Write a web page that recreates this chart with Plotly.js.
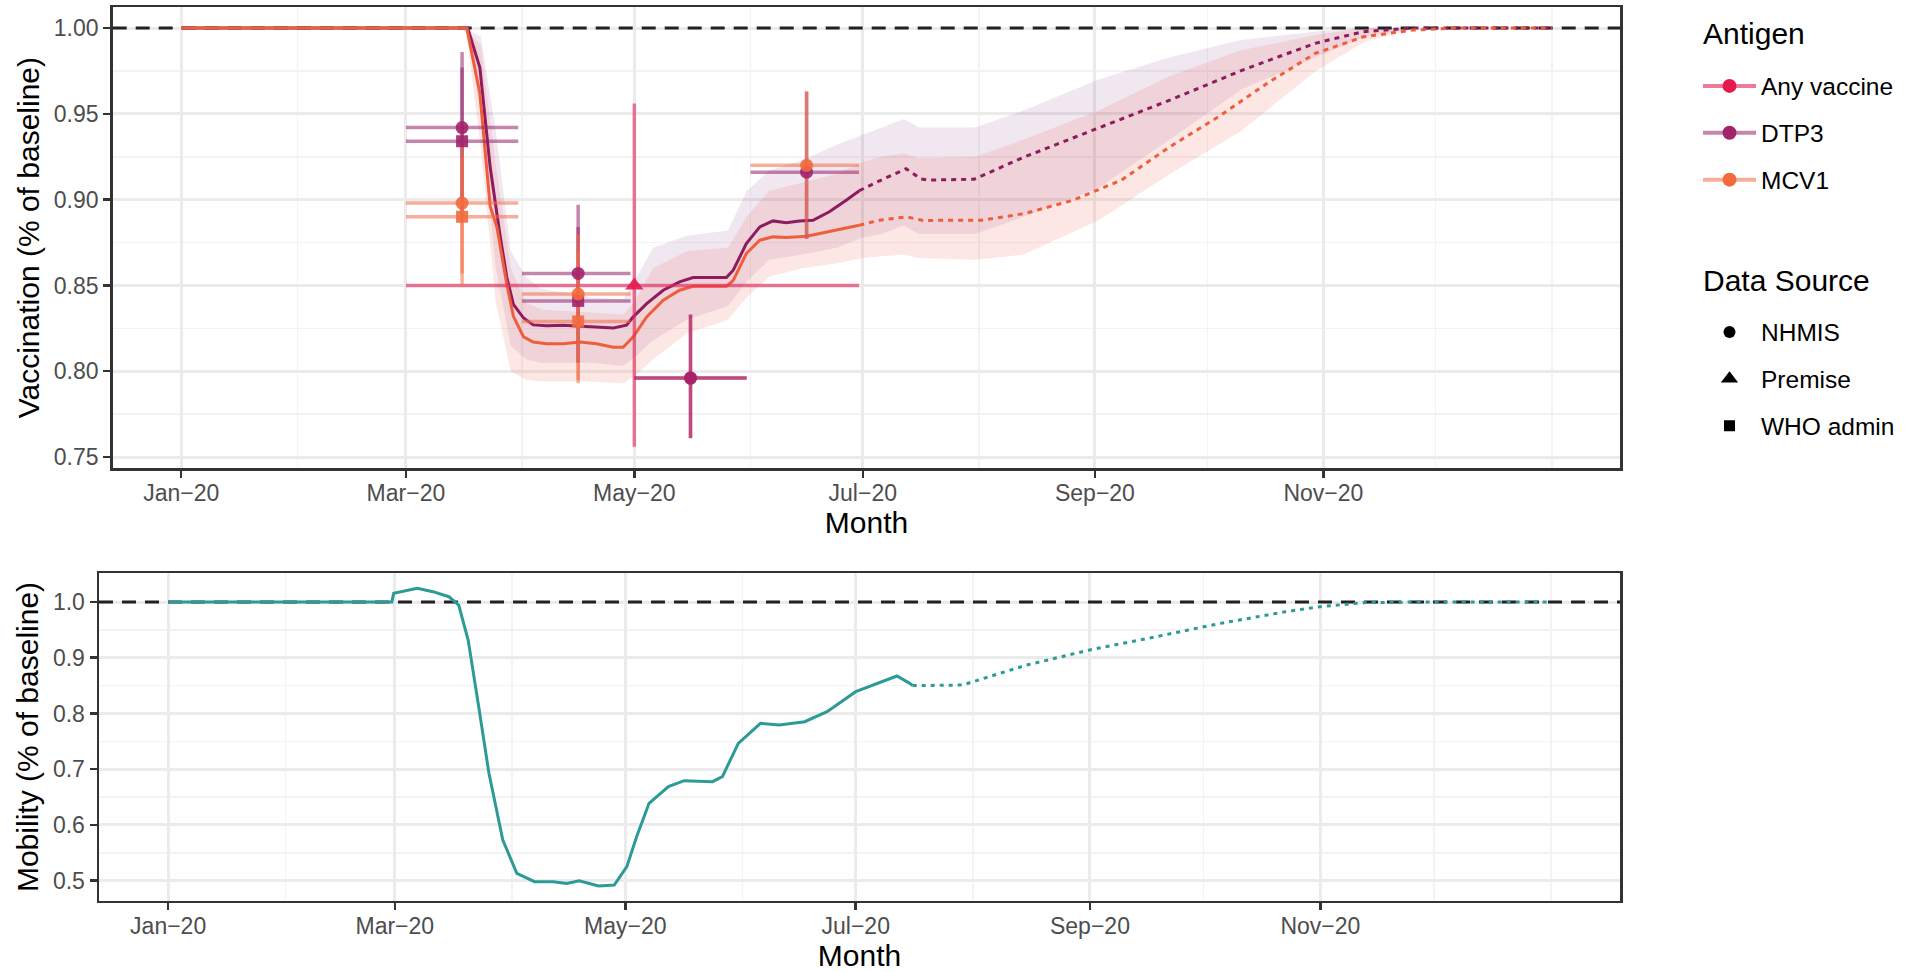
<!DOCTYPE html>
<html><head><meta charset="utf-8">
<script src="https://cdn.plot.ly/plotly-3.0.1.min.js"></script>
<style>html,body{margin:0;padding:0;background:#fff;} #chart{width:1917px;height:972px;}</style>
</head><body><div id="chart"></div>
<script>
// ---------------- DATA ----------------
const BASELINE = 1.0;
const X_RANGE = ['2019-12-13 16:48', '2021-01-19 07:12'];

const MONTH_TICKS  = ['2020-01-01','2020-03-01','2020-05-01','2020-07-01','2020-09-01','2020-11-01'];
const MONTH_LABELS = ['Jan\u221220','Mar\u221220','May\u221220','Jul\u221220','Sep\u221220','Nov\u221220'];
const MINOR_MONTHS = ['2020-02-01','2020-04-01','2020-06-01','2020-08-01','2020-10-01','2020-12-01','2021-01-01'];

const VAC_TICKS = [0.75, 0.80, 0.85, 0.90, 0.95, 1.00];
const VAC_MINOR = [0.775, 0.825, 0.875, 0.925, 0.975];
const MOB_TICKS = [0.5, 0.6, 0.7, 0.8, 0.9, 1.0];
const MOB_MINOR = [0.55, 0.65, 0.75, 0.85, 0.95];

// DTP3 fitted line (observed period)
const dtp3Dates = ['2020-01-01','2020-03-17 12:00','2020-03-20 18:00','2020-03-23 12:00','2020-03-26 02:00','2020-03-27 22:00','2020-03-29 17:00','2020-04-01 10:00','2020-04-04','2020-04-07 14:00','2020-04-12','2020-04-16 12:00','2020-04-20 22:00','2020-04-25 10:00','2020-04-28 22:00','2020-04-30 17:00','2020-05-04 07:00','2020-05-08 17:00','2020-05-13 02:00','2020-05-16 17:00','2020-05-20 07:00','2020-05-25 14:00','2020-05-27 10:00','2020-05-30 22:00','2020-06-03 12:00','2020-06-07','2020-06-10 14:00','2020-06-14 02:00','2020-06-17 17:00','2020-06-22 02:00','2020-06-26 14:00','2020-06-30 02:00'];
const dtp3Values = [1.000,1.000,0.977,0.919,0.880,0.855,0.839,0.831,0.827,0.8265,0.8268,0.8262,0.8258,0.8252,0.8268,0.8317,0.8394,0.8472,0.8521,0.8546,0.8546,0.8546,0.8589,0.8744,0.8841,0.8876,0.8865,0.8876,0.8880,0.8929,0.8997,0.9052];
// DTP3 projection
const dtp3ProjDates = ['2020-06-30 02:00','2020-07-05 12:00','2020-07-12 14:00','2020-07-16 14:00','2020-07-18 10:00','2020-07-30 17:00','2020-08-13 07:00','2020-09-01 14:00','2020-09-21','2020-10-10 10:00','2020-10-29 19:00','2020-11-11 17:00','2020-11-24 17:00','2021-01-01'];
const dtp3ProjValues = [0.9052,0.911,0.918,0.912,0.9114,0.9119,0.925,0.9415,0.958,0.9755,0.9911,0.9979,1.000,1.000];

// MCV1 fitted line (observed period)
const mcv1Dates = ['2020-01-01','2020-03-17 06:00','2020-03-20 18:00','2020-03-23 12:00','2020-03-25 07:00','2020-03-27 22:00','2020-03-29 17:00','2020-04-01 10:00','2020-04-04','2020-04-07 14:00','2020-04-12','2020-04-16 12:00','2020-04-20 22:00','2020-04-25 10:00','2020-04-28','2020-04-30 17:00','2020-05-04 07:00','2020-05-08 17:00','2020-05-13 02:00','2020-05-16 17:00','2020-05-25 14:00','2020-05-27 10:00','2020-05-30 22:00','2020-06-03 12:00','2020-06-07','2020-06-10 14:00','2020-06-16','2020-06-19 10:00','2020-06-24 19:00','2020-06-30 02:00'];
const mcv1Values = [1.000,1.000,0.962,0.896,0.884,0.851,0.832,0.820,0.817,0.816,0.816,0.817,0.816,0.814,0.814,0.820,0.8317,0.8414,0.8472,0.8495,0.8495,0.853,0.8686,0.8764,0.8783,0.8779,0.8787,0.8803,0.8826,0.8851];
// MCV1 projection
const mcv1ProjDates = ['2020-06-30 02:00','2020-07-05 12:00','2020-07-12 14:00','2020-07-17 02:00','2020-08-01 14:00','2020-08-13 07:00','2020-08-26 05:00','2020-09-08 02:00','2020-09-21','2020-10-04','2020-10-16 22:00','2020-10-29 19:00','2020-11-11 17:00','2020-11-24 17:00','2020-12-06','2021-01-01'];
const mcv1ProjValues = [0.8851,0.888,0.890,0.8879,0.888,0.8919,0.8997,0.9114,0.9308,0.9483,0.9677,0.9852,0.9949,0.9988,1.000,1.000];

// Uncertainty ribbons
const ribbonDates = ['2020-01-01','2020-03-17','2020-03-21','2020-03-25','2020-03-29','2020-04-02','2020-04-06','2020-04-20','2020-04-28','2020-05-01','2020-05-06','2020-05-15','2020-05-26','2020-05-31','2020-06-06','2020-06-15','2020-06-24','2020-07-01','2020-07-06','2020-07-12','2020-07-16','2020-07-31','2020-08-13','2020-09-02','2020-09-21','2020-10-10','2020-10-30','2020-11-12','2020-11-26','2021-01-01'];
const dtp3Lower = [1,1,0.950,0.860,0.815,0.807,0.805,0.805,0.803,0.808,0.818,0.830,0.838,0.852,0.865,0.868,0.872,0.878,0.880,0.885,0.880,0.880,0.890,0.907,0.935,0.964,0.983,0.995,1,1];
const dtp3Upper = [1,1,0.995,0.940,0.870,0.855,0.848,0.843,0.842,0.852,0.872,0.879,0.882,0.905,0.917,0.923,0.932,0.938,0.942,0.947,0.942,0.942,0.952,0.970,0.983,0.993,0.998,1.000,1,1];
const mcv1Lower = [1,1,0.930,0.840,0.800,0.795,0.794,0.794,0.793,0.797,0.807,0.822,0.830,0.843,0.855,0.860,0.863,0.866,0.867,0.868,0.866,0.865,0.868,0.888,0.915,0.940,0.975,0.992,1,1];
const mcv1Upper = [1,1,0.990,0.920,0.860,0.840,0.836,0.834,0.833,0.840,0.860,0.870,0.872,0.890,0.905,0.910,0.915,0.922,0.925,0.927,0.924,0.925,0.935,0.952,0.972,0.987,0.996,1.000,1,1];

// Observed data points with uncertainty
const ptAntigen = ['DTP3','DTP3','MCV1','MCV1','DTP3','MCV1','DTP3','MCV1','Any vaccine','Any vaccine','DTP3','MCV1','DTP3'];
const ptSource  = ['NHMIS','WHO admin','NHMIS','WHO admin','NHMIS','NHMIS','WHO admin','WHO admin','Premise','NHMIS','NHMIS','NHMIS','NHMIS'];
const ptDate    = ['2020-03-16','2020-03-16','2020-03-16','2020-03-16','2020-04-16','2020-04-16','2020-04-16','2020-04-16','2020-05-01','2020-05-16','2020-05-16','2020-06-16','2020-06-16'];
const ptStart   = ['2020-03-01','2020-03-01','2020-03-01','2020-03-01','2020-04-01','2020-04-01','2020-04-01','2020-04-01','2020-03-01','2020-05-01','2020-05-01','2020-06-01','2020-06-01'];
const ptEnd     = ['2020-03-31','2020-03-31','2020-03-31','2020-03-31','2020-04-30','2020-04-30','2020-04-30','2020-04-30','2020-06-30','2020-05-31','2020-05-31','2020-06-30','2020-06-30'];
const ptValue   = [0.942,0.934,0.898,0.890,0.857,0.845,0.841,0.829,0.850,0.796,0.796,0.920,0.916];
const ptLow     = [0.898,0.893,0.850,0.857,0.805,0.793,0.805,0.795,0.756,0.761,0.761,0.877,0.877];
const ptHigh    = [0.986,0.977,0.935,0.925,0.897,0.880,0.884,0.870,0.956,0.833,0.833,0.963,0.963];

// Mobility
const mobDates = ['2020-01-01','2020-02-29 05:00','2020-02-29 17:00','2020-03-06 22:00','2020-03-11 02:00','2020-03-15 07:00','2020-03-17 22:00','2020-03-20 10:00','2020-03-23 05:00','2020-03-25 22:00','2020-03-29 14:00','2020-04-02 07:00','2020-04-07','2020-04-12','2020-04-15 12:00','2020-04-18 19:00','2020-04-23 22:00','2020-04-28 02:00','2020-05-01 10:00','2020-05-04','2020-05-07 07:00','2020-05-12 10:00','2020-05-16 14:00','2020-05-24 02:00','2020-05-26 17:00','2020-05-30 22:00','2020-06-05 19:00','2020-06-10 19:00','2020-06-17 12:00','2020-06-23 10:00','2020-07-01','2020-07-06 22:00','2020-07-11 22:00','2020-07-15 07:00','2020-07-16 02:00'];
const mobValues = [1.000,1.000,1.0156,1.0245,1.0185,1.0095,0.9946,0.9318,0.8122,0.6926,0.5730,0.5132,0.4982,0.4982,0.4952,0.500,0.4905,0.4922,0.5251,0.5789,0.6388,0.6687,0.6794,0.6776,0.6866,0.7465,0.7824,0.7794,0.7853,0.8032,0.8391,0.8541,0.8672,0.8541,0.850];
const mobProjDates = ['2020-07-16 02:00','2020-07-29 05:00','2020-08-15 07:00','2020-08-31 22:00','2020-09-18 12:00','2020-10-05 14:00','2020-10-22 19:00','2020-11-01','2020-11-12 07:00','2020-11-26','2020-12-31'];
const mobProjValues = [0.850,0.851,0.887,0.9139,0.9378,0.9617,0.9826,0.9916,0.9988,1.000,1.000];

// Legend entries
const ANTIGENS = ['Any vaccine','DTP3','MCV1'];
const SOURCES = ['NHMIS','Premise','WHO admin'];
const LEGEND_TITLES = ['Antigen','Data Source'];

// ---------------- STYLE ----------------
const FONT = 'Liberation Sans, Arial, sans-serif';
const MARKER_COL = {'Any vaccine':'#E8194F','DTP3':'#A2226B','MCV1':'#F26A3E'};
const BAR_COL = {'Any vaccine':'rgba(228,40,92,0.62)','DTP3':'rgba(150,35,105,0.55)','MCV1':'rgba(242,110,70,0.55)'};
const LINE_COL = {'DTP3':'#8E1B5E','MCV1':'#EF5E3A'};
const SYMBOL = {'NHMIS':'circle','Premise':'triangle-up','WHO admin':'square'};
const MSIZE = {'NHMIS':13,'Premise':16,'WHO admin':12};
const TEAL = '#2C9A97';
const DASH_BASE = '14px,9px';

const traces = [];
function ribbon(lo, hi, fill){
  traces.push({x:ribbonDates, y:lo, type:'scatter', mode:'lines', line:{width:0}, hoverinfo:'skip', showlegend:false, xaxis:'x', yaxis:'y'});
  traces.push({x:ribbonDates, y:hi, type:'scatter', mode:'lines', line:{width:0}, fill:'tonexty', fillcolor:fill, hoverinfo:'skip', showlegend:false, xaxis:'x', yaxis:'y'});
}
function line(x, y, color, dash, ax, ay, w){
  traces.push({x:x, y:y, type:'scatter', mode:'lines', line:{color:color, width:w||3, dash:dash}, showlegend:false, hoverinfo:'skip', xaxis:ax||'x', yaxis:ay||'y'});
}

ribbon(dtp3Lower, dtp3Upper, 'rgba(150,70,150,0.13)');
ribbon(mcv1Lower, mcv1Upper, 'rgba(238,95,80,0.15)');

// baseline reference (100% of baseline)
line(X_RANGE, [BASELINE, BASELINE], '#222', DASH_BASE, 'x', 'y', 3);

line(dtp3Dates, dtp3Values, LINE_COL.DTP3, 'solid');
line(dtp3ProjDates, dtp3ProjValues, LINE_COL.DTP3, '5px,5px');
line(mcv1Dates, mcv1Values, LINE_COL.MCV1, 'solid');
line(mcv1ProjDates, mcv1ProjValues, LINE_COL.MCV1, '5px,5px');

// error bars and points
ANTIGENS.forEach(function(ag){
  const hx=[], hy=[], vx=[], vy=[];
  for(let i=0;i<ptAntigen.length;i++){
    if(ptAntigen[i]!==ag) continue;
    hx.push(ptStart[i], ptEnd[i], null); hy.push(ptValue[i], ptValue[i], null);
    vx.push(ptDate[i], ptDate[i], null); vy.push(ptLow[i], ptHigh[i], null);
  }
  traces.push({x:hx, y:hy, type:'scatter', mode:'lines', line:{color:BAR_COL[ag], width:3.5}, connectgaps:false, showlegend:false, hoverinfo:'skip'});
  traces.push({x:vx, y:vy, type:'scatter', mode:'lines', line:{color:BAR_COL[ag], width:3.5}, connectgaps:false, showlegend:false, hoverinfo:'skip'});
});
ANTIGENS.forEach(function(ag){
  const mx=[], my=[], sym=[], sz=[];
  for(let i=0;i<ptAntigen.length;i++){
    if(ptAntigen[i]!==ag) continue;
    mx.push(ptDate[i]); my.push(ptValue[i]); sym.push(SYMBOL[ptSource[i]]); sz.push(MSIZE[ptSource[i]]);
  }
  traces.push({x:mx, y:my, type:'scatter', mode:'markers', marker:{color:MARKER_COL[ag], symbol:sym, size:sz, opacity:0.9, line:{width:0}}, name:ag, showlegend:false, hoverinfo:'skip'});
});

// legend entries
ANTIGENS.forEach(function(ag){
  traces.push({x:[null], y:[null], type:'scatter', mode:'lines+markers', name:ag, legend:'legend', legendgroup:'a_'+ag,
    line:{color:BAR_COL[ag], width:4}, marker:{color:MARKER_COL[ag], size:14, symbol:'circle'}});
});
SOURCES.forEach(function(s){
  traces.push({x:[null], y:[null], type:'scatter', mode:'markers', name:s, legend:'legend2', legendgroup:'s_'+s,
    marker:{color:'#000', size:MSIZE[s]-1, symbol:SYMBOL[s]}});
});

// mobility
line(X_RANGE, [BASELINE, BASELINE], '#222', DASH_BASE, 'x2', 'y2', 3);
line(mobDates, mobValues, TEAL, 'solid', 'x2', 'y2');
line(mobProjDates, mobProjValues, TEAL, '4px,5px', 'x2', 'y2');

// ---------------- LAYOUT ----------------
const W = 1917, H = 972;
const TITLE_FONT = {family:FONT, size:30, color:'#000'};
function xaxis(l, r, anchor, standoff){
  return {domain:[l/W, r/W], anchor:anchor, type:'date', range:X_RANGE,
    tickmode:'array', tickvals:MONTH_TICKS, ticktext:MONTH_LABELS,
    tickfont:{family:FONT, size:23, color:'#4D4D4D'}, ticklabelstandoff:-4,
    ticks:'outside', ticklen:7, tickwidth:2.5, tickcolor:'#333',
    showgrid:true, gridcolor:'#EBEBEB', gridwidth:3,
    minor:{tickmode:'array', tickvals:MINOR_MONTHS, showgrid:true, gridcolor:'#F3F3F3', gridwidth:1.5},
    showline:true, mirror:true, linecolor:'#333', linewidth:2.5, zeroline:false,
    title:{text:'Month', font:TITLE_FONT, standoff:standoff}};
}
function yaxis(b, t, anchor, range, ticks, minor, fmt, title){
  return {domain:[1-b/H, 1-t/H], anchor:anchor, range:range,
    tickmode:'array', tickvals:ticks, tickformat:fmt,
    tickfont:{family:FONT, size:23, color:'#4D4D4D'},
    ticks:'outside', ticklen:7, tickwidth:2.5, tickcolor:'#333',
    showgrid:true, gridcolor:'#EBEBEB', gridwidth:3,
    minor:{tickmode:'array', tickvals:minor, showgrid:true, gridcolor:'#F3F3F3', gridwidth:1.5},
    showline:true, mirror:true, linecolor:'#333', linewidth:2.5, zeroline:false,
    title:{text:title, font:TITLE_FONT, standoff:6}};
}

const layout = {
  width:W, height:H, margin:{l:0, r:0, t:0, b:0},
  paper_bgcolor:'#fff', plot_bgcolor:'#fff',
  font:{family:FONT, color:'#000'},
  showlegend:true, hovermode:false,
  xaxis: xaxis(112.7, 1620.3, 'y', 4),
  yaxis: yaxis(468, 7.3, 'x', [0.7436, 1.0121], VAC_TICKS, VAC_MINOR, '.2f', 'Vaccination (% of baseline)'),
  xaxis2: xaxis(99, 1620, 'y2', 9),
  yaxis2: yaxis(900.7, 573.3, 'x2', [0.4641, 1.0515], MOB_TICKS, MOB_MINOR, '.1f', 'Mobility (% of baseline)'),
  annotations:[
    {text:LEGEND_TITLES[0], xref:'paper', yref:'paper', x:1701/W, y:1-33/H, xanchor:'left', yanchor:'middle', showarrow:false, font:TITLE_FONT},
    {text:LEGEND_TITLES[1], xref:'paper', yref:'paper', x:1701/W, y:1-280/H, xanchor:'left', yanchor:'middle', showarrow:false, font:TITLE_FONT}
  ],
  legend:{x:1698/W, xanchor:'left', y:1-63.5/H, yanchor:'top', bgcolor:'rgba(0,0,0,0)',
    font:{family:FONT, size:24.5, color:'#000'}, tracegroupgap:12, itemwidth:53},
  legend2:{x:1698/W, xanchor:'left', y:1-309.5/H, yanchor:'top', bgcolor:'rgba(0,0,0,0)',
    font:{family:FONT, size:24.5, color:'#000'}, tracegroupgap:12, itemwidth:53}
};

Plotly.newPlot('chart', traces, layout, {displayModeBar:false, staticPlot:true});
</script>
</body></html>
